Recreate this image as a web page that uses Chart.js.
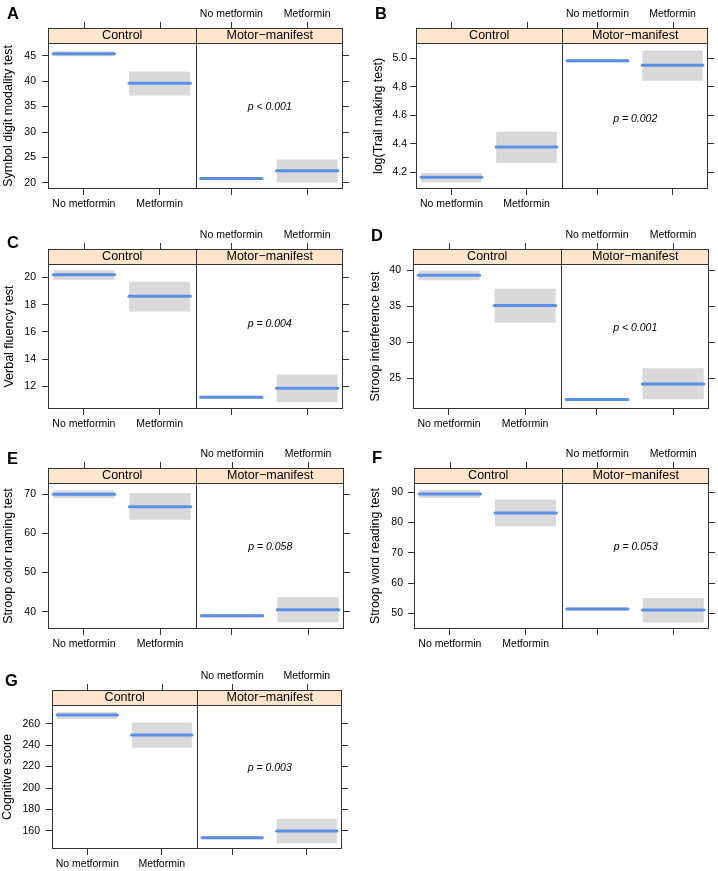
<!DOCTYPE html>
<html>
<head>
<meta charset="utf-8">
<script src="https://cdn.jsdelivr.net/npm/chart.js@4.4.1/dist/chart.umd.min.js"></script>
<style>
  body { margin: 0; background: #fff; }
  canvas { position: absolute; }
</style>
</head>
<body>
<script>
// ---- data ----
const groups = ['Control', 'Motor\u2212manifest'];
const treatments = ['No metformin', 'Metformin'];
const letters = ['A', 'B', 'C', 'D', 'E', 'F', 'G'];
const outcomes = [
    'Symbol digit modality test',
    'log(Trail making test)',
    'Verbal fluency test',
    'Stroop interference test',
    'Stroop color naming test',
    'Stroop word reading test',
    'Cognitive score'
];
const pValues = ['p < 0.001', 'p = 0.002', 'p = 0.004', 'p < 0.001', 'p = 0.058', 'p = 0.053', 'p = 0.003'];

// order in each row: control/no metformin, control/metformin, motor/no metformin, motor/metformin
const fitted = [
    [45.4, 39.6, 20.85, 22.4],
    [4.165, 4.378, 4.984, 4.951],
    [20.2, 18.63, 11.19, 11.85],
    [39.26, 35.1, 22.1, 24.26],
    [70.0, 66.85, 38.97, 40.5],
    [89.34, 83.08, 51.43, 51.1],
    [268.1, 249.4, 153.8, 160.0]
];
const lower = [
    [44.9, 37.2, 20.6, 20.1],
    [4.13, 4.265, 4.972, 4.843],
    [19.85, 17.5, 11.07, 10.82],
    [38.6, 32.7, 21.9, 22.14],
    [69.0, 63.5, 38.5, 37.26],
    [88.0, 78.68, 50.9, 47.0],
    [264.3, 237.6, 152.2, 148.5]
];
const upper = [
    [45.9, 41.9, 21.1, 24.6],
    [4.195, 4.485, 4.995, 5.056],
    [20.52, 19.7, 11.31, 12.86],
    [39.9, 37.4, 22.3, 26.43],
    [71.0, 70.34, 39.4, 43.74],
    [90.66, 87.47, 52.0, 55.05],
    [271.2, 261.2, 155.3, 171.2]
];
const yTicks = [
    [20, 25, 30, 35, 40, 45],
    [4.2, 4.4, 4.6, 4.8, 5.0],
    [12, 14, 16, 18, 20],
    [25, 30, 35, 40],
    [40, 50, 60, 70],
    [50, 60, 70, 80, 90],
    [160, 180, 200, 220, 240, 260]
];
const yLimits = [
    [18.8, 47.5],
    [4.083, 5.108],
    [10.33, 21.0],
    [20.8, 40.83],
    [35.56, 72.9],
    [44.84, 92.97],
    [143.2, 277.4]
];

// ---- layout / style ----
// x runs 0..2: control panel 0..1, motor-manifest panel 1..2
const xCentres = [0.243, 0.757, 1.243, 1.757];
const halfWidth = 0.208;
const stripHeight = 15;
const fontFamily = '"Liberation Sans", Arial, Helvetica, sans-serif';
const lineBlue = '#5b8fe3';
const bandGrey = '#d9d9d9';
const stripFill = '#ffe5cc';
const frame = '#333333';

const panels = [
    {x: 0,   y: 0,   w: 358, h: 220, left: 48, right: 343, top: 43, bottom: 189, labelPad: 6, titlePad: 1,   letterX: 7,  letterBase: 18.5, pY: 107},
    {x: 358, y: 0,   w: 360, h: 220, left: 58, right: 350, top: 43, bottom: 189, labelPad: 3, titlePad: 13,  letterX: 17, letterBase: 18.5, pY: 119},
    {x: 0,   y: 220, w: 358, h: 220, left: 48, right: 343, top: 44, bottom: 189, labelPad: 6, titlePad: 2,   letterX: 7,  letterBase: 27.5, pY: 104},
    {x: 358, y: 220, w: 360, h: 220, left: 55, right: 351, top: 44, bottom: 189, labelPad: 6, titlePad: 10,  letterX: 13, letterBase: 21,   pY: 108},
    {x: 0,   y: 440, w: 358, h: 220, left: 48, right: 344, top: 43, bottom: 189, labelPad: 6, titlePad: 1.5, letterX: 7,  letterBase: 24,   pY: 107},
    {x: 358, y: 440, w: 360, h: 220, left: 56, right: 351, top: 43, bottom: 189, labelPad: 5, titlePad: 10,  letterX: 14, letterBase: 23.3, pY: 107},
    {x: 0,   y: 660, w: 358, h: 211, left: 52, right: 342, top: 45, bottom: 189, labelPad: 6, titlePad: 0,   letterX: 5,  letterBase: 25.7, pY: 108}
];

Chart.defaults.font.family = fontFamily;
Chart.defaults.color = '#000';

function latticePlugin(i) {
    return {
        id: 'lattice' + i,
        afterDraw(chart) {
            const {ctx, chartArea: a, scales: {x}} = chart;
            const P = panels[i];
            const mid = Math.round(x.getPixelForValue(1)) + 0.5;
            const stripTop = a.top - stripHeight;
            ctx.save();
            ctx.fillStyle = stripFill;
            ctx.fillRect(a.left, stripTop, a.right - a.left, stripHeight);
            ctx.strokeStyle = frame;
            ctx.lineWidth = 1;
            ctx.strokeRect(a.left + 0.5, stripTop + 0.5, a.right - a.left - 1, a.bottom - stripTop - 1);
            ctx.beginPath();
            ctx.moveTo(a.left, a.top + 0.5);
            ctx.lineTo(a.right, a.top + 0.5);
            ctx.moveTo(mid, stripTop);
            ctx.lineTo(mid, a.bottom);
            // top tick marks
            xCentres.forEach(c => {
                const px = Math.round(x.getPixelForValue(c)) + 0.5;
                ctx.moveTo(px, stripTop - 6);
                ctx.lineTo(px, stripTop);
            });
            ctx.stroke();

            ctx.fillStyle = '#000';
            ctx.textAlign = 'center';
            ctx.textBaseline = 'middle';
            ctx.font = '12.5px ' + fontFamily;
            ctx.fillText(groups[0], (a.left + mid) / 2, stripTop + stripHeight / 2 + 0.5);
            ctx.fillText(groups[1], (mid + a.right) / 2, stripTop + stripHeight / 2 + 0.5);

            ctx.textBaseline = 'alphabetic';
            ctx.font = '10.5px ' + fontFamily;
            ctx.fillText(treatments[0], x.getPixelForValue(xCentres[2]), stripTop - 11.5);
            ctx.fillText(treatments[1], x.getPixelForValue(xCentres[3]), stripTop - 11.5);

            ctx.font = 'italic 10.5px ' + fontFamily;
            ctx.textBaseline = 'middle';
            ctx.fillText(pValues[i], (mid + a.right) / 2, P.pY);

            ctx.font = 'bold 16.5px ' + fontFamily;
            ctx.textAlign = 'left';
            ctx.textBaseline = 'alphabetic';
            ctx.fillText(letters[i], P.letterX, P.letterBase);
            ctx.restore();
        }
    };
}

function makePanel(i) {
    const P = panels[i];
    const canvas = document.createElement('canvas');
    canvas.width = P.w;
    canvas.height = P.h;
    canvas.style.left = P.x + 'px';
    canvas.style.top = P.y + 'px';
    document.body.appendChild(canvas);

    const datasets = [];
    fitted[i].forEach((m, k) => {
        const c = xCentres[k];
        datasets.push({
            data: [{x: c - halfWidth, y: m}, {x: c + halfWidth, y: m}],
            borderColor: lineBlue,
            borderWidth: 3,
            borderCapStyle: 'round',
            pointRadius: 0,
            fill: false,
            order: 0
        });
        datasets.push({
            data: [{x: c - halfWidth, y: upper[i][k]}, {x: c + halfWidth, y: upper[i][k]}],
            borderColor: 'rgba(0,0,0,0)',
            borderWidth: 0,
            pointRadius: 0,
            backgroundColor: bandGrey,
            fill: {value: lower[i][k]},
            order: 1
        });
    });

    const decimals = yTicks[i].some(v => !Number.isInteger(v)) ? 1 : 0;
    const setYTicks = scale => { scale.ticks = yTicks[i].map(v => ({value: v})); };
    const tickGrid = {drawOnChartArea: false, tickLength: 6, color: frame, lineWidth: 1};

    new Chart(canvas, {
        type: 'line',
        data: {datasets},
        plugins: [latticePlugin(i)],
        options: {
            responsive: false,
            animation: false,
            layout: {padding: {top: P.top, left: 0, right: 0, bottom: 0}},
            plugins: {legend: {display: false}, tooltip: {enabled: false}},
            scales: {
                x: {
                    type: 'linear',
                    min: 0,
                    max: 2,
                    afterBuildTicks: scale => { scale.ticks = xCentres.map(v => ({value: v})); },
                    afterFit: scale => { scale.height = P.h - P.bottom; },
                    grid: tickGrid,
                    border: {display: false},
                    ticks: {
                        autoSkip: false,
                        maxRotation: 0,
                        padding: 3,
                        font: {size: 10.5},
                        callback: (v, idx) => idx < 2 ? treatments[idx] : ''
                    }
                },
                y: {
                    position: 'left',
                    min: yLimits[i][0],
                    max: yLimits[i][1],
                    afterBuildTicks: setYTicks,
                    afterFit: scale => { scale.width = P.left; },
                    grid: tickGrid,
                    border: {display: false},
                    ticks: {
                        padding: P.labelPad,
                        font: {size: 10.5},
                        callback: v => v.toFixed(decimals)
                    },
                    title: {
                        display: true,
                        text: outcomes[i],
                        font: {size: 12.5},
                        padding: {top: P.titlePad, bottom: 0}
                    }
                },
                y2: {
                    position: 'right',
                    min: yLimits[i][0],
                    max: yLimits[i][1],
                    afterBuildTicks: setYTicks,
                    afterFit: scale => { scale.width = P.w - P.right; },
                    grid: tickGrid,
                    border: {display: false},
                    ticks: {display: false}
                }
            }
        }
    });
}

panels.forEach((p, i) => makePanel(i));
</script>
</body>
</html>
